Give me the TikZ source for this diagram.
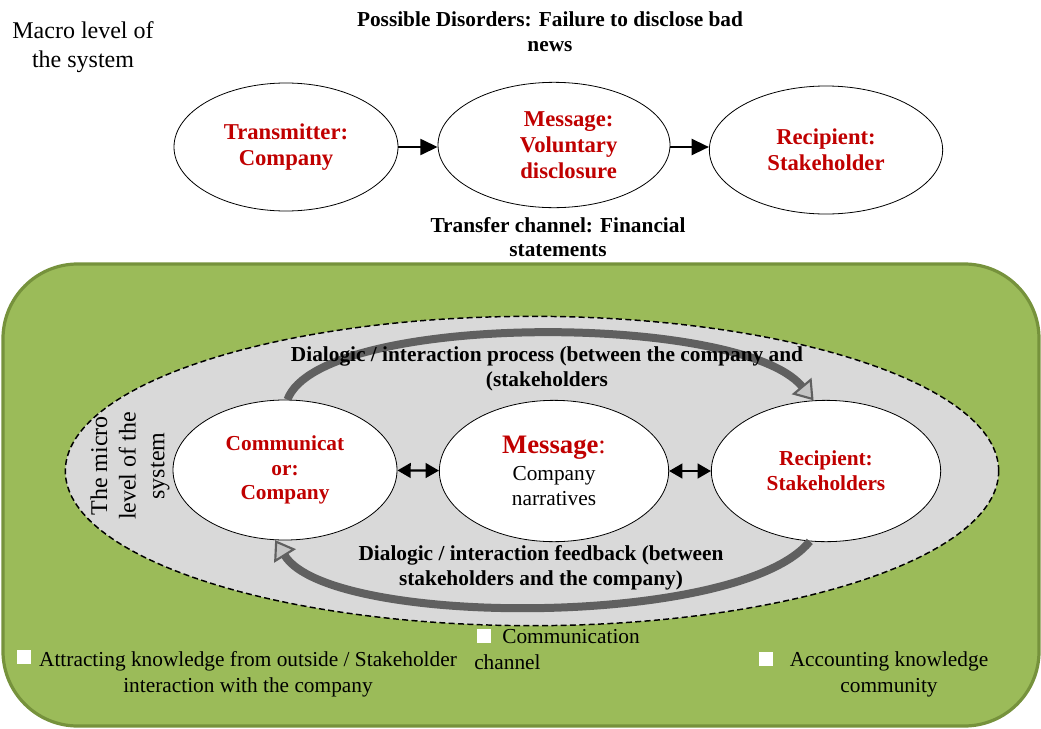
\documentclass[tikz,border=0pt]{standalone}
\usepackage{fontspec}
\setmainfont{Liberation Serif}
\usepackage{tikz}
\usetikzlibrary{shapes.geometric,arrows.meta}

\definecolor{boxgreen}{HTML}{9BBB59}
\definecolor{boxedge}{HTML}{76923C}
\definecolor{microgrey}{HTML}{D9D9D9}
\definecolor{darkred}{HTML}{C00000}
\definecolor{bandgrey}{HTML}{606060}
\definecolor{tipgrey}{HTML}{C4C4C4}

\tikzset{
  party/.style={ellipse, draw, line width=0.6pt, fill=white, inner sep=0pt, align=center},
  topparty/.style={party, minimum width=168pt, minimum height=96pt, text=darkred, font=\bfseries\fontsize{17}{19.5}\selectfont},
  lowparty/.style={party, minimum width=172pt, minimum height=106pt, font=\fontsize{16}{18.5}\selectfont},
  flow/.style={line width=1.8pt, -{Triangle[length=13pt,width=12pt]}},
  both/.style={line width=1.8pt, {Triangle[length=10pt,width=11pt]}-{Triangle[length=10pt,width=11pt]}},
  loop/.style={line width=6pt, bandgrey, -{Triangle[length=14pt,width=19pt,line width=1.6pt,fill=tipgrey]}},
  head/.style={font=\bfseries\fontsize{16}{18.5}\selectfont, align=center, inner sep=0pt},
  plain/.style={font=\fontsize{16}{19.5}\selectfont, align=center, inner sep=0pt},
  tick/.style={fill=white, minimum size=10.5pt, inner sep=0pt}
}

\begin{document}
\begin{tikzpicture}[x=0.75pt,y=-0.75pt]
		\useasboundingbox (0,0) rectangle (1041,728);
		% macro level
		\node[plain, font=\fontsize{18}{21.5}\selectfont] (macro) at (83,47) {Macro level of\\the system};
		\node[head] (disorder) at (550,32) {Possible Disorders: Failure to disclose bad\\news};
		\node[topparty] (sender) at (286,147) {Transmitter:\\Company};
		\node[topparty, minimum width=174pt, minimum height=94pt] (msg) at (554,145) {\hspace*{22pt}Message:\\\hspace*{22pt}Voluntary\\\hspace*{22pt}disclosure};
		\node[topparty, minimum width=175pt] (receiver) at (826,150) {Recipient:\\Stakeholder};
		\draw[flow] (sender.east |- 0,147) -- (msg.west |- 0,147);
		\draw[flow] (msg.east |- 0,147) -- (receiver.west |- 0,147);
		\node[head] (channel) at (558,237) {Transfer channel: Financial\\statements};

		% micro level
		\draw[boxedge, fill=boxgreen, line width=2.4pt, rounded corners=56pt] (3,264) rectangle (1039,726);
		\node[ellipse, draw, dash pattern=on 4.5pt off 2.5pt, line width=1.1pt, fill=microgrey, minimum width=700pt, minimum height=232pt] (micro) at (532,471) {};
		\node[plain, font=\fontsize{18}{21.5}\selectfont, rotate=90] (microtext) at (130,466) {The micro\\level of the\\system};
		\node[lowparty, text=darkred, font=\bfseries\fontsize{16}{18.5}\selectfont, minimum width=168pt, minimum height=105pt] (comm) at (285,470) {Communicat\\or:\\Company};
		\node[lowparty] (story) at (554,471) {{\fontsize{20}{22}\selectfont\color{darkred}\textbf{Message}:}\\[2pt]Company\\narratives};
		\node[lowparty, text=darkred, font=\bfseries\fontsize{16}{18.5}\selectfont] (stake) at (826,471) {Recipient:\\Stakeholders};
		\draw[both] (comm) -- (story);
		\draw[both] (story) -- (stake);
		\draw[loop] (comm.88) .. controls (320,312) and (740,312) .. (stake.100);
		\draw[loop] (stake.-103) .. controls (740,628) and (330,628) .. (comm.-98);
		\node[head] (process) at (547,369) {Dialogic / interaction process (between the company and\\(stakeholders};
		\node[head] (feedback) at (541,568) {Dialogic / interaction feedback (between\\stakeholders and the company)};

		% legend
		\node[tick] (sq1) at (24,657) {};
		\node[plain] (outside) at (248,674) {Attracting knowledge from outside / Stakeholder\\interaction with the company};
		\node[tick] (sq2) at (484,636) {};
		\node[plain, align=left, anchor=west] (commchan) at (474,650) {\hspace*{21pt}Communication\\channel};
		\node[tick] (sq3) at (766,659) {};
		\node[plain] (community) at (889,674) {Accounting knowledge\\community};
		\end{tikzpicture}
\end{document}
